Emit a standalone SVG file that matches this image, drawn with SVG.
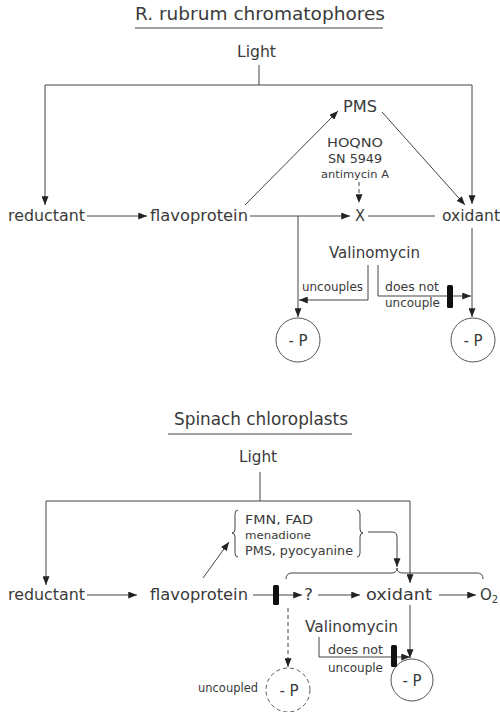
<svg xmlns="http://www.w3.org/2000/svg" width="500" height="712" viewBox="0 0 500 712">
  <defs>
    <style>
      text { font-family: "DejaVu Sans", "Liberation Sans", sans-serif; fill: #3a3a3a; }
      .t { font-size: 15px; }
      .title { font-size: 17px; }
      .sm { font-size: 12.5px; }
      .xs { font-size: 11px; }
      .ln { fill: none; stroke: #444; stroke-width: 1; }
      .dash { stroke-dasharray: 4 3; }
      .bar { fill: #111; }
      .circ { fill: none; stroke: #555; stroke-width: 1; }
    </style>
    <marker id="arr" viewBox="0 0 10 8" refX="10" refY="4" markerWidth="9" markerHeight="7" markerUnits="userSpaceOnUse" orient="auto">
      <path d="M0 0 L10 4 L0 8 Z" fill="#222"/>
    </marker>
  </defs>

  <rect width="500" height="712" fill="#fff"/>

  <!-- ===== Upper scheme: R. rubrum chromatophores ===== -->
  <g id="title-rubrum">
    <text class="title" x="135" y="20" textLength="250" lengthAdjust="spacingAndGlyphs">R. rubrum chromatophores</text>
    <path class="ln" d="M135 28 H383"/>
  </g>
  <g id="light-1"><text class="t" x="237" y="57" textLength="39" lengthAdjust="spacingAndGlyphs">Light</text></g>
  <g id="reductant-1"><text class="t" x="8" y="221" textLength="77" lengthAdjust="spacingAndGlyphs">reductant</text></g>
  <g id="flavoprotein-1"><text class="t" x="150" y="221" textLength="98" lengthAdjust="spacingAndGlyphs">flavoprotein</text></g>
  <g id="pms-1"><text class="t" x="343" y="112" textLength="34" lengthAdjust="spacingAndGlyphs">PMS</text></g>
  <g id="inhibitors-1">
    <text class="sm" x="355" y="147" text-anchor="middle" textLength="56" lengthAdjust="spacingAndGlyphs">HOQNO</text>
    <text class="sm" x="355" y="163" text-anchor="middle" textLength="54" lengthAdjust="spacingAndGlyphs">SN 5949</text>
    <text class="xs" x="355" y="178" text-anchor="middle" textLength="68" lengthAdjust="spacingAndGlyphs">antimycin A</text>
  </g>
  <g id="x-1"><text class="t" x="355" y="221" textLength="10" lengthAdjust="spacingAndGlyphs">X</text></g>
  <g id="oxidant-1"><text class="t" x="442" y="221" textLength="58" lengthAdjust="spacingAndGlyphs">oxidant</text></g>
  <g id="valinomycin-1"><text class="t" x="329" y="258" textLength="91" lengthAdjust="spacingAndGlyphs">Valinomycin</text></g>
  <g id="uncouples-1"><text class="sm" x="302" y="291" textLength="61" lengthAdjust="spacingAndGlyphs">uncouples</text></g>
  <g id="doesnot-1">
    <text class="sm" x="385" y="291" textLength="54" lengthAdjust="spacingAndGlyphs">does not</text>
    <text class="sm" x="385" y="307" textLength="55" lengthAdjust="spacingAndGlyphs">uncouple</text>
  </g>
  <g id="p-left-1">
    <circle class="circ" cx="298" cy="340" r="22"/>
    <text class="t" x="298" y="346" text-anchor="middle">- P</text>
  </g>
  <g id="p-right-1">
    <circle class="circ" cx="473" cy="340" r="22"/>
    <text class="t" x="473" y="346" text-anchor="middle">- P</text>
  </g>

  <g id="connectors-1">
    <path class="ln" d="M259 65 V85"/>
    <path class="ln" d="M45 85 H472"/>
    <path class="ln" d="M45 85 V205" marker-end="url(#arr)"/>
    <path class="ln" d="M472 85 V204" marker-end="url(#arr)"/>
    <path class="ln" d="M87 216 H147" marker-end="url(#arr)"/>
    <path class="ln" d="M250 216 H350" marker-end="url(#arr)"/>
    <path class="ln" d="M368 216 H435"/>
    <path class="ln" d="M245 205 L338 111" marker-end="url(#arr)"/>
    <path class="ln" d="M382 112 L465 205" marker-end="url(#arr)"/>
    <path class="ln dash" d="M359 182 V203" marker-end="url(#arr)"/>
    <path class="ln" d="M298 216 V317" marker-end="url(#arr)"/>
    <path class="ln" d="M472 228 V317" marker-end="url(#arr)"/>
    <path class="ln" d="M368 265 V300 H299" marker-end="url(#arr)"/>
    <path class="ln" d="M378 265 V296 H447"/>
    <rect class="bar" x="447" y="285" width="6" height="23" rx="1.5"/>
    <path class="ln" d="M453 296 H471" marker-end="url(#arr)"/>
  </g>

  <!-- ===== Lower scheme: Spinach chloroplasts ===== -->
  <g id="title-spinach">
    <text class="title" x="174" y="425" textLength="174" lengthAdjust="spacingAndGlyphs">Spinach chloroplasts</text>
    <path class="ln" d="M168 434 H352"/>
  </g>
  <g id="light-2"><text class="t" x="239" y="462" textLength="38" lengthAdjust="spacingAndGlyphs">Light</text></g>
  <g id="reductant-2"><text class="t" x="8" y="600" textLength="77" lengthAdjust="spacingAndGlyphs">reductant</text></g>
  <g id="flavoprotein-2"><text class="t" x="150" y="600" textLength="98" lengthAdjust="spacingAndGlyphs">flavoprotein</text></g>
  <g id="carriers-2">
    <text class="sm" x="245" y="524" textLength="68" lengthAdjust="spacingAndGlyphs">FMN, FAD</text>
    <text class="xs" x="245" y="539" textLength="66" lengthAdjust="spacingAndGlyphs">menadione</text>
    <text class="sm" x="245" y="555" textLength="108" lengthAdjust="spacingAndGlyphs">PMS, pyocyanine</text>
    <path class="ln" d="M238 510 Q235 510 235 514 V529 Q235 533 232 533 Q235 533 235 537 V553 Q235 557 238 557"/>
    <path class="ln" d="M357 510 Q360 510 360 514 V529 Q360 533 363 533 Q360 533 360 537 V553 Q360 557 357 557"/>
  </g>
  <g id="q-2"><text class="t" x="304" y="600" textLength="9" lengthAdjust="spacingAndGlyphs">?</text></g>
  <g id="oxidant-2"><text class="t" x="366" y="600" textLength="66" lengthAdjust="spacingAndGlyphs">oxidant</text></g>
  <g id="o2-2"><text class="t" x="480" y="600">O<tspan font-size="10" dy="3">2</tspan></text></g>
  <g id="valinomycin-2"><text class="t" x="305" y="632" textLength="93" lengthAdjust="spacingAndGlyphs">Valinomycin</text></g>
  <g id="doesnot-2">
    <text class="sm" x="328" y="654" textLength="55" lengthAdjust="spacingAndGlyphs">does not</text>
    <text class="sm" x="328" y="672" textLength="55" lengthAdjust="spacingAndGlyphs">uncouple</text>
  </g>
  <g id="uncoupled-2"><text class="sm" x="198" y="692" textLength="60" lengthAdjust="spacingAndGlyphs">uncoupled</text></g>
  <g id="p-left-2">
    <circle class="circ dash" cx="288" cy="690" r="22"/>
    <text class="t" x="289" y="696" text-anchor="middle">- P</text>
  </g>
  <g id="p-right-2">
    <circle class="circ" cx="412" cy="680" r="21"/>
    <text class="t" x="412" y="686" text-anchor="middle">- P</text>
  </g>

  <g id="connectors-2">
    <path class="ln" d="M260 472 V501"/>
    <path class="ln" d="M46 501 H410"/>
    <path class="ln" d="M46 501 V585" marker-end="url(#arr)"/>
    <path class="ln" d="M410 501 V583" marker-end="url(#arr)"/>
    <path class="ln" d="M87 595 H137" marker-end="url(#arr)"/>
    <path class="ln" d="M253 595 H273"/>
    <rect class="bar" x="273" y="585" width="6" height="20" rx="1.5"/>
    <path class="ln" d="M279 595 H302" marker-end="url(#arr)"/>
    <path class="ln" d="M318 595 H360" marker-end="url(#arr)"/>
    <path class="ln" d="M439 595 H476" marker-end="url(#arr)"/>
    <path class="ln" d="M203 578 L229 542" marker-end="url(#arr)"/>
    <path class="ln" d="M368 532 H392 Q397 532 397 537 V567" marker-end="url(#arr)"/>
    <path class="ln" d="M286 579 Q286 573 292 573 H391 Q397 573 397 568 Q397 573 403 573 H477 Q483 573 483 579"/>
    <path class="ln dash" d="M288 608 V667" marker-end="url(#arr)"/>
    <path class="ln" d="M410 605 V658" marker-end="url(#arr)"/>
    <path class="ln" d="M319 637 V657 H391"/>
    <rect class="bar" x="391" y="645" width="6" height="22" rx="1.5"/>
    <path class="ln" d="M397 657 H410" marker-end="url(#arr)"/>
  </g>
</svg>
